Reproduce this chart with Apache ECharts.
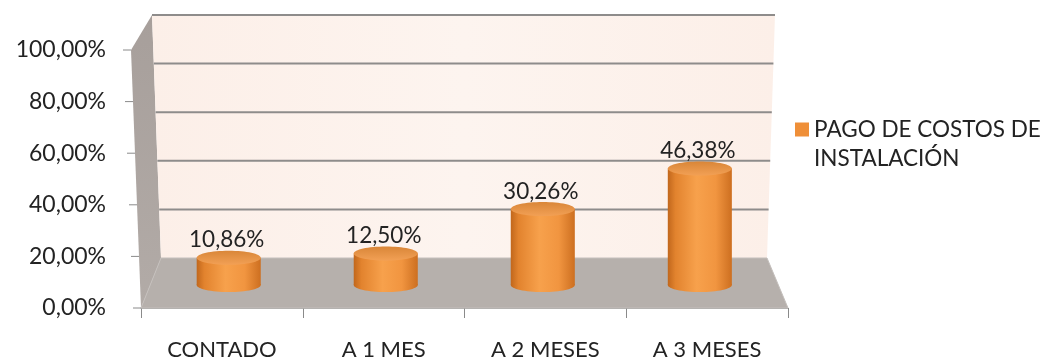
<!DOCTYPE html>
<html>
<head>
<meta charset="utf-8">
<script src="https://cdn.jsdelivr.net/npm/echarts@6/dist/echarts.min.js"></script>
<style>
  html, body { margin: 0; padding: 0; background: #ffffff; }
  #chart { width: 1042px; height: 358px; }
</style>
</head>
<body>
<div id="chart"></div>
<script>
// Chart data
const categories = ['CONTADO', 'A 1 MES', 'A 2 MESES', 'A 3 MESES'];
const seriesName = 'PAGO DE COSTOS DE INSTALACIÓN';
const legendLines = ['PAGO DE COSTOS DE', 'INSTALACIÓN'];
const pagoValues = [10.86, 12.50, 30.26, 46.38];
const yTicks = [0, 20, 40, 60, 80, 100];

const FONT = 'Lato, "Open Sans", sans-serif';
const TEXT = '#232323';

// Perspective box: front plane is the cartesian grid (left edge leans out at the top),
// back plane corners are offset from the front ones.
const LEAN = 10;
const BACK = { bl: [20, -50], br: [-21, -50], tl: [21, -35], tr: [-23, -35] };
const DEPTH = 0.46;      // depth of the cylinders inside the box
const RADIUS = 0.198;    // cylinder radius as a fraction of the category band
const ELLIPSE = 0.22;    // vertical squash of the cylinder caps

function lerp(a, b, t) { return a + (b - a) * t; }

function makeFrame(cs) {
  const x0 = cs.x, x1 = cs.x + cs.width, y0 = cs.y + cs.height, y1 = cs.y;
  const fbl = [x0, y0], fbr = [x1, y0], ftl = [x0 - LEAN, y1], ftr = [x1 + LEAN, y1];
  const add = (p, o) => [p[0] + o[0], p[1] + o[1]];
  const bbl = add(fbl, BACK.bl), bbr = add(fbr, BACK.br), btl = add(ftl, BACK.tl), btr = add(ftr, BACK.tr);
  function bil(bl, br, tl, tr, u, v) {
    const b = [lerp(bl[0], br[0], u), lerp(bl[1], br[1], u)];
    const t = [lerp(tl[0], tr[0], u), lerp(tl[1], tr[1], u)];
    return [lerp(b[0], t[0], v), lerp(b[1], t[1], v)];
  }
  return {
    P(u, v, w) {
      const f = bil(fbl, fbr, ftl, ftr, u, v);
      const k = bil(bbl, bbr, btl, btr, u, v);
      return [lerp(f[0], k[0], w), lerp(f[1], k[1], w)];
    }
  };
}

function pct(v) { return v.toFixed(2).replace('.', ',') + '%'; }

// Walls, floor, back gridlines and value-axis ticks
function renderBox(params, api) {
  const cs = params.coordSys;
  const F = makeFrame(cs);
  const poly = (arr) => arr.map(a => F.P(a[0], a[1], a[2]));
  const children = [];
  children.push({
    type: 'polygon',
    shape: { points: poly([[0, 0, 0], [0, 1, 0], [0, 1, 1], [0, 0, 1]]) },
    style: {
      fill: new echarts.graphic.LinearGradient(0, 0, 0, 1, [
        { offset: 0, color: '#a79f9b' }, { offset: 1, color: '#b2aba7' }
      ])
    }
  });
  children.push({
    type: 'polygon',
    shape: { points: poly([[0, 0, 1], [1, 0, 1], [1, 1, 1], [0, 1, 1]]) },
    style: {
      fill: new echarts.graphic.LinearGradient(0, 0, 1, 0, [
        { offset: 0, color: '#fcefe8' }, { offset: 0.5, color: '#fdf4ef' }, { offset: 1, color: '#fcefe8' }
      ])
    }
  });
  children.push({
    type: 'polygon',
    shape: { points: poly([[0, 0, 0], [1, 0, 0], [1, 0, 1], [0, 0, 1]]) },
    style: { fill: '#b6b0ac', stroke: '#c4bfbc', lineWidth: 1 }
  });
  yTicks.forEach(t => {
    const y = api.coord([0, t])[1];
    const v = (cs.y + cs.height - y) / cs.height;
    if (t > 0) {
      const a = F.P(0, v, 1), b = F.P(1, v, 1);
      children.push({ type: 'line', shape: { x1: a[0], y1: a[1], x2: b[0], y2: b[1] },
        style: { stroke: '#8e8c8b', lineWidth: 2 } });
    }
    const e = F.P(0, v, 0);
    children.push({ type: 'line', shape: { x1: e[0] - 8, y1: e[1], x2: e[0], y2: e[1] },
      style: { stroke: '#8a8a8a', lineWidth: 1 } });
  });
  return { type: 'group', children };
}

// Cylinders with their value labels
function renderCylinder(params, api) {
  const cs = params.coordSys;
  const F = makeFrame(cs);
  const i = api.value(0), val = api.value(1);
  const band = api.size([1, 0])[0];
  const base = api.coord([i, 0]);
  const top = api.coord([i, val]);
  const u = (base[0] - cs.x) / cs.width;
  const vTop = (cs.y + cs.height - top[1]) / cs.height;
  const b = F.P(u, 0, DEPTH), t = F.P(u, vTop, DEPTH);
  const cx = b[0], rx = band * RADIUS, ry = rx * ELLIPSE;
  const side = () => new echarts.graphic.LinearGradient(0, 0, 1, 0, [
    { offset: 0, color: '#c1671c' }, { offset: 0.12, color: '#e2832e' },
    { offset: 0.45, color: '#f7a14c' }, { offset: 0.75, color: '#f19540' },
    { offset: 1, color: '#cd6f20' }
  ]);
  return {
    type: 'group',
    children: [
      { type: 'ellipse', shape: { cx, cy: b[1], rx, ry }, style: { fill: side() } },
      { type: 'rect', shape: { x: cx - rx, y: t[1], width: rx * 2, height: b[1] - t[1] }, style: { fill: side() } },
      { type: 'ellipse', shape: { cx, cy: t[1], rx, ry },
        style: { fill: new echarts.graphic.LinearGradient(0, 0, 0, 1, [
          { offset: 0, color: '#d98638' }, { offset: 1, color: '#f2a055' }
        ]) } },
      { type: 'text', x: cx - 2, y: t[1] - ry + 1,
        style: { text: pct(val), fill: TEXT, font: '22.5px ' + FONT, align: 'center', verticalAlign: 'bottom' } }
    ]
  };
}

const chart = echarts.init(document.getElementById('chart'), null, { renderer: 'canvas' });
chart.setOption({
  animation: false,
  backgroundColor: '#ffffff',
  grid: { left: 141, right: 254, top: 50, bottom: 50, outerBoundsMode: 'none', containLabel: false },
  legend: {
    left: 795, top: 86, padding: 0,
    icon: 'rect', itemWidth: 14, itemHeight: 14, itemGap: 0,
    data: [seriesName],
    // leading empty line keeps the square beside the first line of text
    formatter: () => '\n' + legendLines.join('\n'),
    textStyle: { fontFamily: FONT, fontSize: 22.5, color: TEXT, lineHeight: 29 }
  },
  xAxis: {
    type: 'category',
    data: categories,
    axisLine: { lineStyle: { color: '#a5a5a5' } },
    axisTick: { show: true, length: 10, lineStyle: { color: '#8a8a8a' } },
    axisLabel: { margin: 31, fontFamily: FONT, fontSize: 22, color: TEXT },
    splitLine: { show: false }
  },
  yAxis: {
    type: 'value',
    min: yTicks[0], max: yTicks[yTicks.length - 1], interval: yTicks[1] - yTicks[0],
    axisLine: { show: false },
    axisTick: { show: false },
    splitLine: { show: false },
    axisLabel: { margin: 35, fontFamily: FONT, fontSize: 23, color: TEXT, formatter: v => pct(v) }
  },
  series: [
    {
      type: 'custom', name: 'box', silent: true, clip: false, z: 1,
      renderItem: renderBox, data: [[0, 0]]
    },
    {
      type: 'custom', name: seriesName, clip: false, z: 2,
      itemStyle: { color: '#ef8f38' },
      renderItem: renderCylinder,
      encode: { x: 0, y: 1 },
      data: pagoValues.map((v, i) => [i, v])
    }
  ]
});
</script>
</body>
</html>
